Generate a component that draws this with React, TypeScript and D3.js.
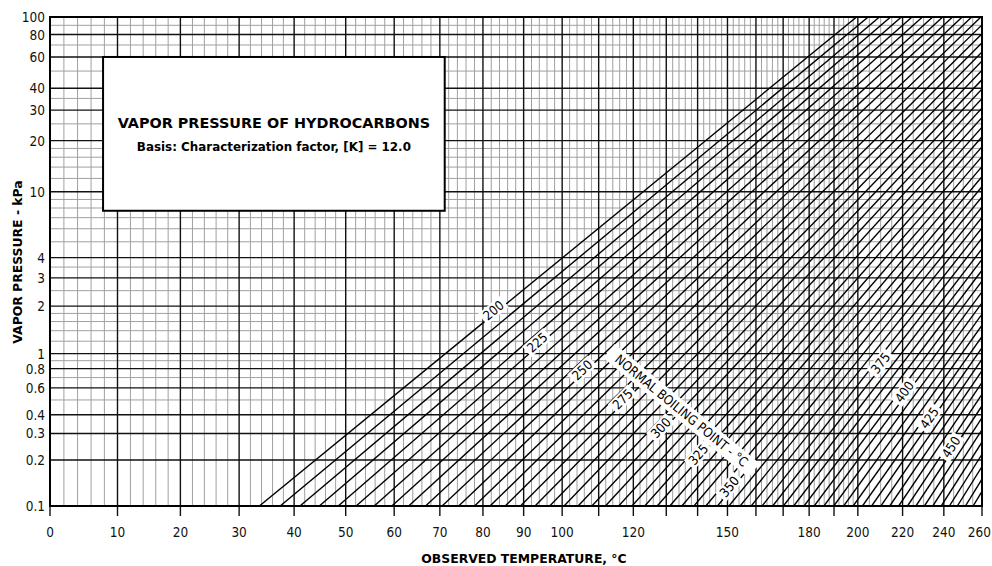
import React from "react";
import * as d3 from "d3";

// normal boiling point of each line, °C
const boilingPoints = [
  200, 205, 210, 215, 220, 225, 230, 235, 240, 245, 250, 255, 260, 265, 270,
  275, 280, 285, 290, 295, 300, 305, 310, 315, 320, 325, 330, 335, 340, 345,
  350, 355, 360, 365, 370, 375, 380, 385, 390, 395, 400, 405, 410, 415, 420,
  425, 430, 435, 440, 445, 450, 455, 460, 465, 470, 475, 480, 485, 490,
];
// temperature where each line meets the 0.1 kPa bottom edge, °C
const tempAt01kPa = [
  33.6, 37.4, 41.1, 44.8, 48.5, 52.1, 55.8, 59.5, 63.1, 66.8, 70.5, 74.3, 78.0,
  81.7, 85.4, 89.2, 92.9, 96.7, 100.5, 104.3, 108.1, 111.9, 115.7, 119.6, 123.4,
  127.2, 131.1, 134.9, 138.8, 142.7, 146.6, 150.5, 154.4, 158.3, 162.2, 166.1,
  170.1, 174.0, 178.0, 182.0, 185.9, 189.9, 194.0, 198.0, 202.0, 206.0, 210.1,
  214.1, 218.2, 222.3, 226.3, 230.4, 234.5, 238.7, 242.8, 246.9, 251.1, 255.2,
  259.4,
];

const labeledLines = [200, 225, 250, 275, 300, 325, 350, 375, 400, 425, 450];
const labelTemps = [83, 94, 106, 117.5, 129, 141, 151.5, 211, 222, 234, 245];

const xMajor = [
  0, 10, 20, 30, 40, 50, 60, 70, 80, 90, 100, 110, 120, 130, 140, 150, 160, 170,
  180, 190, 200, 220, 240, 260,
];
const xLabels = [0, 10, 20, 30, 40, 50, 60, 70, 80, 90, 100, 120, 150, 180, 200, 220, 240, 260];
const yMajor = [0.1, 0.2, 0.3, 0.4, 0.6, 0.8, 1, 2, 3, 4, 10, 20, 30, 40, 60, 80, 100];
const yMinor = [
  0.5, 0.7, 0.9, 1.2, 1.4, 1.6, 1.8, 2.5, 3.5, 5, 6, 7, 8, 9, 12, 14, 16, 18, 25,
  35, 50, 70, 90,
];

const TICK_FONT = "'DejaVu Sans Condensed', 'DejaVu Sans', sans-serif";
const FONT = "'DejaVu Sans', sans-serif";
const plot = { left: 50, right: 982, top: 17, bottom: 506 };

// x axis: reciprocal absolute temperature
const recip = (t: number) => -1 / (t + 273.15);
// y axis: Maxwell-Bonnell pressure coordinate
const mbX = (kPa: number) => {
  const mm = kPa * 7.50062;
  const L = Math.log10(mm);
  return mm < 2
    ? (0.987672 * L - 6.76156) / (43 * L - 3000.538)
    : (0.972546 * L - 5.994296) / (95.76 * L - 2663.129);
};

export default function App() {
  const xs = d3.scaleLinear().domain([recip(0), recip(260)]).range([plot.left, plot.right]);
  const ys = d3.scaleLinear().domain([mbX(0.1), mbX(100)]).range([plot.bottom, plot.top]);
  const x = (t: number) => xs(recip(t));
  const y = (p: number) => ys(mbX(p));

  const xMinor = d3
    .range(0, 200, 2)
    .concat(d3.range(200, 260, 5))
    .filter((t) => !xMajor.includes(t));

  const segs = boilingPoints.map((tb, i) => ({
    tb,
    x1: x(tempAt01kPa[i]),
    y1: y(0.1),
    x2: x(tb),
    y2: y(101.325),
  }));

  const box = { x0: x(7.8), x1: x(71.1), y0: y(60), y1: y(7.7) };
  const band = { cx: x(134.8), cy: y(0.425), angle: 39.5 };

  return (
    <svg width={992} height={566} style={{ position: "absolute", left: 0, top: 0 }} fontFamily={FONT}>
      <defs>
        <clipPath id="plotclip">
          <rect x={plot.left} y={plot.top} width={plot.right - plot.left} height={plot.bottom - plot.top} />
        </clipPath>
      </defs>
      <rect width={992} height={566} fill="#fff" />

      {/* minor grid */}
      <g stroke="#a0a0a0" strokeWidth={1}>
        {xMinor.map((t) => (
          <line key={"xm" + t} x1={x(t)} x2={x(t)} y1={plot.top} y2={plot.bottom} />
        ))}
        {yMinor.map((p) => (
          <line key={"ym" + p} x1={plot.left} x2={plot.right} y1={y(p)} y2={y(p)} />
        ))}
      </g>

      {/* major grid */}
      <g stroke="#111" strokeWidth={1.4}>
        {xMajor.map((t) => (
          <line key={"xM" + t} x1={x(t)} x2={x(t)} y1={plot.top} y2={plot.bottom + 10} />
        ))}
        {yMajor.map((p) => (
          <line key={"yM" + p} x1={plot.left} x2={plot.right} y1={y(p)} y2={y(p)} />
        ))}
      </g>

      {/* boiling point lines */}
      <g clipPath="url(#plotclip)" stroke="#000" strokeWidth={1.4}>
        {segs.map((s) => (
          <line key={s.tb} x1={s.x1} y1={s.y1} x2={s.x2} y2={s.y2} />
        ))}
      </g>

      {/* line labels */}
      {labeledLines.map((tb, j) => {
        const s = segs.find((d) => d.tb === tb)!;
        const lx = x(labelTemps[j]);
        const ly = s.y1 + ((lx - s.x1) * (s.y2 - s.y1)) / (s.x2 - s.x1);
        const ang = (Math.atan2(s.y2 - s.y1, s.x2 - s.x1) * 180) / Math.PI;
        return (
          <g key={"lab" + tb} transform={`translate(${lx},${ly}) rotate(${ang})`}>
            <rect x={-14} y={-10} width={28} height={14} fill="#fff" />
            <text y={-3} textAnchor="middle" dominantBaseline="central" fontSize={13} fontFamily={TICK_FONT}>
              {tb}
            </text>
          </g>
        );
      })}

      {/* normal boiling point band */}
      <g transform={`translate(${band.cx},${band.cy}) rotate(${band.angle})`}>
        <rect x={-94} y={-9} width={188} height={18} fill="#fff" />
        <text textAnchor="middle" dominantBaseline="central" fontSize={13} fontFamily={TICK_FONT}>
          NORMAL BOILING POINT - °C
        </text>
      </g>

      {/* title box */}
      <rect
        x={box.x0}
        y={box.y0}
        width={box.x1 - box.x0}
        height={box.y1 - box.y0}
        fill="#fff"
        stroke="#000"
        strokeWidth={2}
      />
      <text x={(box.x0 + box.x1) / 2} y={127.5} textAnchor="middle" fontWeight="bold" fontSize={14.4}>
        VAPOR PRESSURE OF HYDROCARBONS
      </text>
      <text x={(box.x0 + box.x1) / 2} y={150.5} textAnchor="middle" fontWeight="bold" fontSize={11.9}>
        Basis: Characterization factor, [K] = 12.0
      </text>

      {/* frame */}
      <rect
        x={plot.left}
        y={plot.top}
        width={plot.right - plot.left}
        height={plot.bottom - plot.top}
        fill="none"
        stroke="#000"
        strokeWidth={2}
      />

      {/* tick labels */}
      <g fontSize={13.5} fill="#111" fontFamily={TICK_FONT}>
        {xLabels.map((t, i) => {
          const last = i === xLabels.length - 1;
          return (
            <text key={"xl" + t} x={last ? 991 : x(t)} y={537} textAnchor={last ? "end" : "middle"}>
              {t}
            </text>
          );
        })}
        {yMajor.map((p) => (
          <text key={"yl" + p} x={45} y={y(p)} textAnchor="end" dominantBaseline="central">
            {p}
          </text>
        ))}
      </g>

      {/* axis titles */}
      <text x={524} y={563} textAnchor="middle" fontWeight="bold" fontSize={12.4}>
        OBSERVED TEMPERATURE, °C
      </text>
      <text
        transform={`translate(22,${262}) rotate(-90)`}
        textAnchor="middle"
        fontWeight="bold"
        fontSize={12.4}
      >
        VAPOR PRESSURE - kPa
      </text>
    </svg>
  );
}
